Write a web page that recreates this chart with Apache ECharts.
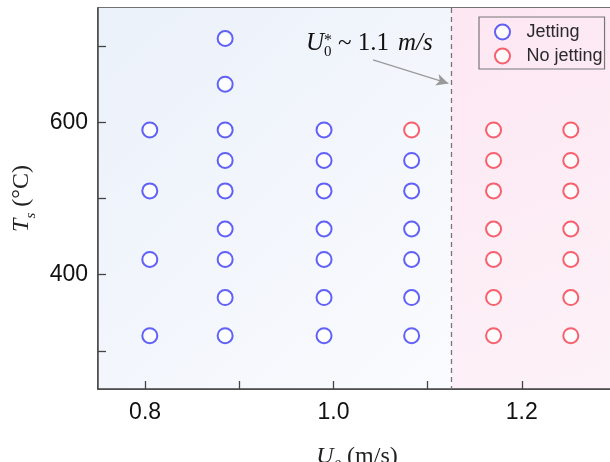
<!DOCTYPE html>
<html><head><meta charset="utf-8">
<script src="https://cdn.jsdelivr.net/npm/echarts@6/dist/echarts.min.js"></script>
<style>html,body{margin:0;padding:0;background:#fff}#c{width:610px;height:462px}</style>
</head><body><div id="c"></div>
<script>
// Data
const jettingU = [0.805,0.805,0.805,0.805,
  0.885,0.885,0.885,0.885,0.885,0.885,0.885,0.885,0.885,
  0.99,0.99,0.99,0.99,0.99,0.99,0.99,
  1.083,1.083,1.083,1.083,1.083,1.083];
const jettingT = [590,510,420,320,
  710,650,590,550,510,460,420,370,320,
  590,550,510,460,420,370,320,
  550,510,460,420,370,320];
const noJetU = [1.083,
  1.17,1.17,1.17,1.17,1.17,1.17,1.17,
  1.252,1.252,1.252,1.252,1.252,1.252,1.252];
const noJetT = [590,
  590,550,510,460,420,370,320,
  590,550,510,460,420,370,320];
const xTickValues = [0.8,0.9,1.0,1.1,1.2];
const xLabelValues = [0.8,1.0,1.2];
const yTickValues = [300,400,500,600,700];
const yLabelValues = [400,600];
const threshold = 1.125;
const arrowFrom = [1.042, 682];
const arrowTo = [1.122, 651];

const chart = echarts.init(document.getElementById('c'));
const blue = '#3b3bf6', red = '#f63b4b';
const axisCol = '#444';
const zip = (a,b)=>a.map((v,i)=>[v,b[i]]);
const titleRich = {
  i:{fontFamily:'Liberation Serif',fontStyle:'italic',fontSize:24,color:'#222',lineHeight:28,verticalAlign:'bottom'},
  sub:{fontFamily:'Liberation Serif',fontStyle:'italic',fontSize:15,color:'#222',lineHeight:28,verticalAlign:'bottom',padding:[0,0,-5,0]},
  n:{fontFamily:'Liberation Serif',fontSize:24,color:'#222',lineHeight:28,verticalAlign:'bottom'}};
chart.setOption({
  animation:false,
  grid:{left:98, top:8, right:-6, bottom:73, show:true, borderColor:axisCol, borderWidth:1.5, backgroundColor:'transparent', outerBoundsMode:'none', containLabel:false},
  xAxis:{type:'value', min:0.75, max:1.3,
    axisLine:{lineStyle:{color:axisCol,width:1.5}},
    axisTick:{inside:true,length:8,customValues:xTickValues,lineStyle:{color:axisCol,width:1.3}},
    axisLabel:{customValues:xLabelValues, formatter:v=>v.toFixed(1), fontFamily:'Liberation Sans', fontSize:23, color:'#111', margin:12},
    splitLine:{show:false},
    name:'{i|U}{sub|0}{n| (m/s)}', nameLocation:'middle', nameGap:52,
    nameTextStyle:{rich:titleRich}
  },
  yAxis:{type:'value', min:250, max:750,
    axisLine:{lineStyle:{color:axisCol,width:1.5}},
    axisTick:{inside:true,length:8,customValues:yTickValues,lineStyle:{color:axisCol,width:1.3}},
    axisLabel:{customValues:yLabelValues, fontFamily:'Liberation Sans', fontSize:23, color:'#111', margin:10},
    splitLine:{show:false},
    name:'{i|T}{sub|s}{n| (°C)}', nameLocation:'middle', nameGap:64, nameRotate:90,
    nameTextStyle:{rich:titleRich}
  },
  legend:{left:479, top:17, orient:'vertical', padding:[6,2,4,15], itemGap:6,
    borderColor:'#777', borderWidth:1.2, backgroundColor:'rgba(255,255,255,0)',
    itemWidth:16, itemHeight:15, textStyle:{fontFamily:'Liberation Sans',fontSize:18,color:'#2a2a2a',lineHeight:15,padding:[0,0,0,11]},
    data:[{name:'Jetting',icon:'emptyCircle'},{name:'No jetting',icon:'emptyCircle'}]},
  series:[
    {name:'Jetting', type:'scatter', symbol:'emptyCircle', symbolSize:15, z:5,
      itemStyle:{color:blue, borderColor:blue, borderWidth:1.3},
      data:zip(jettingU,jettingT),
      markArea:{silent:true, z:0, data:[
        [{xAxis:0.75, yAxis:750, itemStyle:{color:new echarts.graphic.LinearGradient(0,0,1,1,[{offset:0,color:'#ebf1fa'},{offset:1,color:'#fafbfe'}])}},
         {xAxis:threshold, yAxis:250}],
        [{xAxis:threshold, yAxis:750, itemStyle:{color:new echarts.graphic.LinearGradient(0,0,1,1,[{offset:0,color:'#fde7f2'},{offset:1,color:'#fdf2f8'}])}},
         {xAxis:1.3, yAxis:250}]
      ]},
      markLine:{silent:true, z:3, animation:false, label:{show:false}, data:[
        [{coord:[threshold,750],symbol:'none',lineStyle:{color:'#777',type:[5,4],width:1.3}},{coord:[threshold,250],symbol:'none'}],
        [{coord:arrowFrom,symbol:'none',lineStyle:{color:'#999',type:'solid',width:1.2}},{coord:arrowTo,symbol:'arrow',symbolSize:[9,12]}]
      ]}
    },
    {name:'No jetting', type:'scatter', symbol:'emptyCircle', symbolSize:15, z:5,
      itemStyle:{color:red, borderColor:red, borderWidth:1.3},
      data:zip(noJetU,noJetT)}
  ],
  graphic:{elements:[
    {type:'text', z:100, x:306, y:31, style:{text:'U', fontFamily:'Liberation Serif', fontStyle:'italic', fontSize:25, fill:'#111'}},
    {type:'text', z:100, x:324, y:33, style:{text:'*', fontFamily:'Liberation Serif', fontSize:16, fill:'#111'}},
    {type:'text', z:100, x:324, y:45, style:{text:'0', fontFamily:'Liberation Serif', fontSize:15, fill:'#111'}},
    {type:'text', z:100, x:338, y:31, style:{text:'~ 1.1', fontFamily:'Liberation Serif', fontSize:25, fill:'#111'}},
    {type:'text', z:100, x:398, y:31, style:{text:'m/s', fontFamily:'Liberation Serif', fontStyle:'italic', fontSize:25, fill:'#111'}}
  ]}
});
</script></body></html>
